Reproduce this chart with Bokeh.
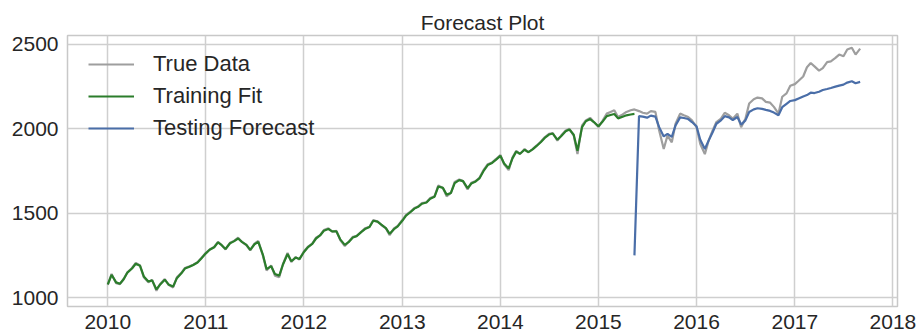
import pandas as pd
from bokeh.plotting import figure
from bokeh.models import FixedTicker, Range1d, Legend, LegendItem, DatetimeTickFormatter
from bokeh.embed import file_html
from bokeh.resources import INLINE

# ---- data (semi-monthly) ----
true_values = [
    # 2010
    1075, 1140, 1085, 1080, 1110, 1150, 1175, 1205, 1190, 1120, 1090, 1105,
    1040, 1080, 1110, 1075, 1060, 1120, 1145, 1175, 1185, 1195, 1210, 1235,
    # 2011
    1265, 1285, 1300, 1330, 1310, 1285, 1325, 1335, 1355, 1330, 1310, 1280,
    1320, 1335, 1250, 1160, 1190, 1130, 1120, 1200, 1265, 1210, 1240, 1225,
    # 2012
    1275, 1300, 1320, 1355, 1370, 1400, 1410, 1390, 1395, 1340, 1305, 1330,
    1360, 1365, 1390, 1410, 1420, 1460, 1450, 1430, 1410, 1370, 1410, 1425,
    # 2013
    1460, 1490, 1510, 1530, 1540, 1560, 1565, 1590, 1600, 1665, 1650, 1600,
    1620, 1685, 1700, 1690, 1640, 1680, 1690, 1710, 1760, 1790, 1800, 1820,
    # 2014
    1845, 1790, 1755, 1830, 1870, 1850, 1880, 1860, 1880, 1900, 1925, 1950,
    1970, 1975, 1930, 1960, 1990, 2000, 1960, 1850, 2020, 2050, 2065, 2040,
    # 2015
    2010, 2045, 2090, 2100, 2110, 2070, 2085, 2100, 2110, 2115, 2105, 2095,
    2090, 2105, 2100, 1990, 1880, 1960, 1920, 2030, 2090, 2080, 2070, 2050,
    # 2016
    2010, 1910, 1850, 1930, 1990, 2040, 2060, 2095, 2080, 2060, 2090, 2010,
    2060, 2150, 2175, 2185, 2180, 2160, 2155, 2130, 2090, 2190, 2210, 2255,
    # 2017 (Jan .. Sep)
    2265, 2285, 2310, 2365, 2390, 2370, 2345, 2360, 2395, 2400, 2420, 2440,
    2430, 2470, 2480, 2440, 2475,
]

train_fit_values = [
    # 2010
    1078, 1135, 1090, 1082, 1108, 1148, 1172, 1200, 1188, 1125, 1095, 1102,
    1048, 1078, 1106, 1078, 1065, 1115, 1142, 1172, 1183, 1193, 1208, 1232,
    # 2011
    1262, 1283, 1298, 1327, 1310, 1288, 1322, 1333, 1350, 1330, 1312, 1283,
    1316, 1330, 1255, 1168, 1186, 1140, 1130, 1196, 1258, 1215, 1237, 1228,
    # 2012
    1270, 1297, 1318, 1350, 1368, 1396, 1406, 1392, 1392, 1345, 1312, 1328,
    1356, 1364, 1388, 1406, 1418, 1455, 1450, 1432, 1412, 1378, 1405, 1422,
    # 2013
    1455, 1486, 1507, 1527, 1538, 1556, 1563, 1586, 1598, 1658, 1650, 1610,
    1620, 1678, 1696, 1690, 1648, 1676, 1688, 1706, 1754, 1785, 1798, 1816,
    # 2014
    1840, 1795, 1765, 1825, 1865, 1852, 1876, 1862, 1878, 1897, 1922, 1946,
    1966, 1972, 1936, 1956, 1985, 1996, 1965, 1870, 2010, 2045, 2058, 2040,
    # 2015 (Jan .. May)
    2015, 2040, 2075, 2082, 2088, 2062, 2072, 2080, 2085, 2088,
]

forecast_values = [
    # 2015 (from mid May)
    1250, 2075, 2072, 2066, 2078, 2072, 2010, 1955, 1970, 1952, 2020, 2068,
    2064, 2058, 2040,
    # 2016
    2015, 1935, 1880, 1930, 1980, 2030, 2050, 2075, 2068, 2052, 2070, 2025,
    2050, 2100, 2115, 2122, 2118, 2112, 2106, 2096, 2080, 2128, 2148, 2165,
    # 2017 (Jan .. Sep)
    2170, 2180, 2192, 2200, 2214, 2212, 2220, 2230, 2236, 2242, 2250, 2256,
    2262, 2274, 2282, 2270, 2278,
]

dates = pd.date_range("2010-01-01", periods=len(true_values), freq="SMS")
train_dates = dates[:len(train_fit_values)]
forecast_dates = dates[len(train_fit_values) - 1:len(train_fit_values) - 1 + len(forecast_values)]

y_ticks = [1000, 1500, 2000, 2500]
x_tick_years = [2010, 2011, 2012, 2013, 2014, 2015, 2016, 2017, 2018]

# ---- figure ----
FONT = "Liberation Sans"
p = figure(
    width=917, height=333,
    x_axis_type="datetime",
    output_backend="svg", toolbar_location=None,
    title="Forecast Plot",
    min_border_left=67, min_border_right=20, min_border_top=35, min_border_bottom=27,
)

p.x_range = Range1d(pd.Timestamp("2009-08-04"), pd.Timestamp("2018-01-18"))
p.y_range = Range1d(947, 2553)

gray_c = "#9e9e9e"
green_c = "#2b7d2b"
blue_c = "#4a6ea8"

r_true = p.line(dates, true_values, line_color=gray_c, line_width=2.2)
r_train = p.line(train_dates, train_fit_values, line_color=green_c, line_width=2.2)
r_fc = p.line(forecast_dates, forecast_values, line_color=blue_c, line_width=2.2)

# title
p.title.text_font = FONT
p.title.text_font_size = "21px"
p.title.text_font_style = "normal"
p.title.text_color = "#262626"
p.title.align = "center"
p.title.standoff = 3

# axes
year_ms = [pd.Timestamp(f"{y}-01-01").value / 1e6 for y in x_tick_years]
p.xaxis.ticker = FixedTicker(ticks=year_ms)
p.xaxis.formatter = DatetimeTickFormatter(years="%Y", months="%Y", days="%Y")
p.yaxis.ticker = FixedTicker(ticks=y_ticks)
for ax in (p.xaxis, p.yaxis):
    ax.axis_line_color = None
    ax.major_tick_line_color = None
    ax.minor_tick_line_color = None
    ax.major_label_text_font = FONT
    ax.major_label_text_font_size = "21px"
    ax.major_label_text_color = "#262626"
p.xaxis.major_label_standoff = 2
p.yaxis.major_label_standoff = 3

# grid and frame
p.xgrid.grid_line_color = "#cfcfcf"
p.ygrid.grid_line_color = "#cfcfcf"
p.xgrid.grid_line_width = 1.5
p.ygrid.grid_line_width = 1.5
p.outline_line_color = "#c8c8c8"
p.outline_line_width = 1.5
p.background_fill_color = "white"
p.border_fill_color = "white"

legend = Legend(items=[
    LegendItem(label="True Data", renderers=[r_true]),
    LegendItem(label="Training Fit", renderers=[r_train]),
    LegendItem(label="Testing Forecast", renderers=[r_fc]),
], location=(17, 161))
legend.label_text_font = FONT
legend.label_text_font_size = "22px"
legend.label_text_color = "#262626"
legend.background_fill_alpha = 0
legend.border_line_alpha = 0
legend.glyph_width = 46
legend.label_standoff = 19
legend.spacing = 6
legend.label_height = 26
legend.glyph_height = 26
legend.padding = 4
legend.margin = 0
p.add_layout(legend)

open("out.html", "w").write(file_html(p, INLINE))
